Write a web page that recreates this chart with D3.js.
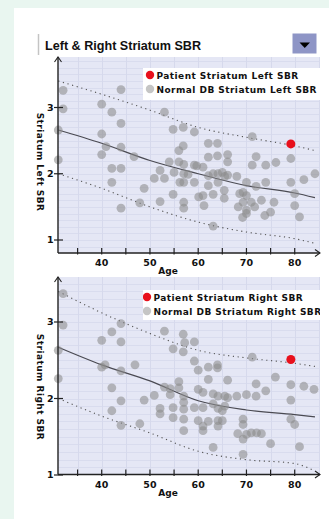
<!DOCTYPE html>
<html><head><meta charset="utf-8">
<script src="https://cdn.jsdelivr.net/npm/d3@7"></script>
<style>html,body{margin:0;padding:0;background:#fff;}svg{display:block;}</style>
</head><body><svg id="c" width="329" height="519"></svg>
<script>
// ---------- DATA ----------
const titleText = "Left & Right Striatum SBR";
const xTickValues = [40, 50, 60, 70, 80];
const yTickValues = [1, 2, 3];
const xLabel = "Age";
const leftLabel = "Striatum Left SBR";
const rightLabel = "Striatum Right SBR";
const leftLegend = ["Patient Striatum Left SBR", "Normal DB Striatum Left SBR"];
const rightLegend = ["Patient Striatum Right SBR", "Normal DB Striatum Right SBR"];

const leftNormalAge = [32,32,31,31,44,40,42.1,44,40,40.9,40,44,46.7,42.1,44,42.1,48.8,44,47.9,50.9,52.1,53,52.1,53,54.8,56.9,56.9,56,54,56,57,55,57,56.2,57,54.8,57,57,59.2,62.1,64,71.2,62.1,64,66.1,66.1,72,71.2,74,76.1,79.2,59.7,61,57.9,59.2,62.1,63.1,64.1,65,65.5,66.1,68,62.1,64.1,65.4,70,72,74,79.2,81.9,84.2,61,63.1,65.4,69.3,70,69.3,71,73.1,75.7,68.3,70,71.7,73.8,75,80,81,63.1,80,60.1,61.2,59.2,69.2,70,68.6];
const leftNormalSBR = [3.26,2.98,2.66,2.21,3.27,3.05,2.93,2.76,2.60,2.41,2.29,2.40,2.26,2.08,2.08,1.87,1.78,1.48,1.56,1.93,2.05,1.93,1.58,2.93,2.67,2.70,2.42,2.35,2.18,2.18,2.14,2.02,2.00,1.87,1.87,1.69,1.57,1.48,2.63,2.46,2.46,2.56,2.25,2.27,2.29,2.18,2.26,2.13,2.13,2.17,2.23,2.12,2.10,1.99,1.87,1.97,2.00,2.00,2.02,1.96,1.98,1.96,1.82,1.87,1.75,1.87,1.81,1.87,1.87,1.91,2.00,1.67,1.69,1.63,1.72,1.67,1.57,1.57,1.60,1.57,1.50,1.45,1.50,1.37,1.42,1.52,1.35,1.21,1.70,1.65,1.52,2.13,1.34,1.40,1.70];

const rightNormalAge = [32,32,31,31,44,42.1,40,44,40,40.7,44,46.9,42.1,44,42.1,44,48.8,47.9,50.9,52.1,52.1,53,54.8,56.9,56.9,53,54.2,54.2,56,56,57,57,54.8,57,57,54.8,57,59.2,60,62.1,64,64,71.2,59.2,62.1,66.1,72,76,79.2,81.9,84,60,61,63.1,64.1,65.5,66.1,68,70,72,74,79.2,59.2,61,63.1,64.1,65,65.5,60,61,62.1,64.1,65,64.1,61,63.1,69.3,69.3,70,69.3,71,72.1,73.1,68.2,75,79.2,80,81,69.3,57.2];
const rightNormalSBR = [3.37,2.96,2.63,2.26,2.98,2.87,2.76,2.74,2.41,2.44,2.36,2.44,2.14,1.97,1.84,1.65,1.98,1.67,2.04,1.87,1.80,2.88,2.65,2.84,2.61,2.15,2.13,2.05,2.22,2.14,2.03,1.95,1.88,1.86,1.73,1.75,1.58,2.74,2.37,2.41,2.44,2.40,2.54,2.49,2.25,2.24,2.19,2.28,2.18,2.16,2.12,2.12,2.08,2.06,2.03,2.03,2.01,2.03,2.05,2.03,2.10,1.98,1.88,1.88,1.93,1.87,1.84,1.90,1.71,1.64,1.70,1.71,1.71,1.64,1.58,1.36,1.73,1.66,1.53,1.47,1.55,1.55,1.54,1.54,1.41,1.73,1.66,1.37,1.27,2.73];

const patientAge = [79.2];
const patientLeftSBR = [2.45];
const patientRightSBR = [2.51];

const curveAges  = [31, 40, 50, 60, 70, 80, 84.2];
const leftMean   = [2.66, 2.46, 2.20, 2.00, 1.82, 1.71, 1.64];
const leftUpper  = [3.40, 3.20, 2.96, 2.70, 2.55, 2.42, 2.35];
const leftLower  = [2.00, 1.78, 1.50, 1.27, 1.12, 1.02, 0.95];
const rightMean  = [2.67, 2.44, 2.23, 1.97, 1.85, 1.79, 1.76];
const rightUpper = [3.40, 3.12, 2.85, 2.63, 2.53, 2.46, 2.42];
const rightLower = [2.00, 1.77, 1.55, 1.31, 1.20, 1.15, 1.05];

// ---------- DRAW ----------
const svg = d3.select("#c");
svg.append("rect").attr("width",329).attr("height",519).attr("fill","#e9f6f0");
svg.append("rect").attr("x",14).attr("y",8).attr("width",315).attr("height",511).attr("fill","#ffffff");

// title bar
svg.append("line").attr("x1",38.5).attr("x2",38.5).attr("y1",34).attr("y2",55)
  .attr("stroke","#c4c4c4").attr("stroke-width",1.5);
svg.append("text").attr("x",45).attr("y",50).text(titleText)
  .attr("font-family","'Liberation Sans', Arial, sans-serif").attr("font-weight","bold")
  .attr("font-size","12.6px").attr("fill","#111");
svg.append("rect").attr("x",292.5).attr("y",33.5).attr("width",24).attr("height",20)
  .attr("fill","#8e95c6");
svg.append("path").attr("d","M299.5,42.5 L310,42.5 L304.75,48 Z").attr("fill","#000");

const x = d3.scaleLinear().domain([40,80]).range([101.7,294.7]);
const FONT = "'DejaVu Sans', Verdana, sans-serif";

function panel(o){
  const y = d3.scaleLinear().domain([1,3]).range([o.y1, o.y3]);
  const g = svg.append("g");
  const L = 58, R = 320;
  // background
  g.append("rect").attr("x",L).attr("y",o.top).attr("width",R-L).attr("height",o.bottom-o.top)
    .attr("fill","#e5e7f5");
  // horizontal grid every 0.1
  const vMin = y.invert(o.bottom), vMax = y.invert(o.top);
  const hv = d3.range(Math.ceil(vMin*10), Math.floor(vMax*10)+1).map(d=>d/10);
  g.selectAll(".hg").data(hv).join("line")
    .attr("x1",L).attr("x2",R).attr("y1",d=>Math.round(y(d))+0.5).attr("y2",d=>Math.round(y(d))+0.5)
    .attr("stroke","#d9dcee").attr("stroke-width",1);
  const vv = d3.range(35,86,5);
  g.selectAll(".vg").data(vv).join("line")
    .attr("y1",o.top).attr("y2",o.bottom).attr("x1",d=>Math.round(x(d))+0.5).attr("x2",d=>Math.round(x(d))+0.5)
    .attr("stroke","#d6d9ec").attr("stroke-width",1);

  // curves
  const line = d3.line().x(d=>x(d[0])).y(d=>y(d[1])).curve(d3.curveMonotoneX);
  g.append("path").attr("d",line(d3.zip(curveAges,o.upper))).attr("fill","none")
    .attr("stroke","#555").attr("stroke-width",1.1).attr("stroke-dasharray","1.2,3.6");
  g.append("path").attr("d",line(d3.zip(curveAges,o.lower))).attr("fill","none")
    .attr("stroke","#555").attr("stroke-width",1.1).attr("stroke-dasharray","1.2,3.6");
  g.append("path").attr("d",line(d3.zip(curveAges,o.mean))).attr("fill","none")
    .attr("stroke","#4a4a52").attr("stroke-width",1.2);

  // normal points
  g.selectAll(".pt").data(d3.zip(o.ages,o.vals)).join("circle")
    .attr("cx",d=>x(d[0])).attr("cy",d=>y(d[1])).attr("r",4.4)
    .attr("fill","#8c8c8c").attr("fill-opacity",0.58);
  // patient
  g.selectAll(".pp").data(d3.zip(patientAge,o.patient)).join("circle")
    .attr("cx",d=>x(d[0])).attr("cy",d=>y(d[1])).attr("r",4.5).attr("fill","#e8101c");

  // axes
  g.append("line").attr("x1",L).attr("x2",L).attr("y1",o.top).attr("y2",o.bottom)
    .attr("stroke","#222").attr("stroke-width",1.4);
  g.append("line").attr("x1",L).attr("x2",R).attr("y1",o.bottom).attr("y2",o.bottom)
    .attr("stroke","#222").attr("stroke-width",1.4);
  g.append("path").attr("d",`M${L-3.5},${o.top+5} L${L},${o.top} L${L+3.5},${o.top+5}`)
    .attr("fill","none").attr("stroke","#222").attr("stroke-width",1.1);
  g.append("path").attr("d",`M${R-5},${o.bottom-3.5} L${R},${o.bottom} L${R-5},${o.bottom+3.5}`)
    .attr("fill","none").attr("stroke","#222").attr("stroke-width",1.1);

  // x ticks
  g.selectAll(".xt").data(d3.range(35,81,5)).join("line")
    .attr("x1",d=>x(d)).attr("x2",d=>x(d)).attr("y1",o.bottom-5).attr("y2",o.bottom+1.5)
    .attr("stroke","#222").attr("stroke-width",1.2);
  g.selectAll(".xl").data(xTickValues).join("text")
    .attr("x",d=>x(d)).attr("y",o.bottom+13).attr("text-anchor","middle").text(d=>d)
    .attr("font-family",FONT).attr("font-weight","bold").attr("font-size","9.5px").attr("fill","#111");
  g.append("text").attr("x",168).attr("y",o.bottom+21).attr("text-anchor","middle").text(xLabel)
    .attr("font-family",FONT).attr("font-weight","bold").attr("font-size","9px").attr("fill","#111");

  // y ticks
  g.selectAll(".yt").data(yTickValues).join("line")
    .attr("x1",54).attr("x2",63).attr("y1",d=>y(d)).attr("y2",d=>y(d))
    .attr("stroke","#222").attr("stroke-width",1.2);
  g.selectAll(".yl").data(yTickValues).join("text")
    .attr("x",53.5).attr("y",d=>y(d)+3.3).attr("text-anchor","end").text(d=>d)
    .attr("font-family",FONT).attr("font-weight","bold").attr("font-size","9.5px").attr("fill","#111");
  g.append("text").attr("transform",`translate(37,${o.labelY}) rotate(90)`)
    .attr("text-anchor","middle").text(o.label)
    .attr("font-family",FONT).attr("font-weight","bold").attr("font-size","9px")
    .attr("letter-spacing","0.45px").attr("fill","#111");

  // legend
  const clipId = "clip"+o.top;
  svg.append("clipPath").attr("id",clipId).append("rect")
    .attr("x",o.lx).attr("y",o.ly).attr("width",R-o.lx).attr("height",o.lh);
  const lg = g.append("g").attr("clip-path",`url(#${clipId})`);
  lg.append("rect").attr("x",o.lx).attr("y",o.ly).attr("width",R-o.lx).attr("height",o.lh).attr("fill","#fff");
  const rows = [{c:"#e8101c",o:1},{c:"#8c8c8c",o:0.5}];
  rows.forEach((r,i)=>{
    const cy = o.ly + 7 + i*14;
    lg.append("circle").attr("cx",o.lx+o.dx).attr("cy",cy).attr("r",4.2).attr("fill",r.c).attr("fill-opacity",r.o);
    lg.append("text").attr("x",o.lx+o.dx+6.5).attr("y",cy+3.5).text(o.legend[i])
      .attr("font-family",FONT).attr("font-weight","bold").attr("font-size","9px")
      .attr("letter-spacing","0.45px").attr("fill","#111");
  });
}

panel({top:57, bottom:253, y1:240, y3:107.5, ages:leftNormalAge, vals:leftNormalSBR,
  patient:patientLeftSBR, mean:leftMean, upper:leftUpper, lower:leftLower,
  label:leftLabel, labelY:162, legend:leftLegend, lx:143, ly:68, lh:32, dx:7});
panel({top:277, bottom:474.5, y1:475, y3:322, ages:rightNormalAge, vals:rightNormalSBR,
  patient:patientRightSBR, mean:rightMean, upper:rightUpper, lower:rightLower,
  label:rightLabel, labelY:387, legend:rightLegend, lx:143, ly:290, lh:30, dx:4});
</script></body></html>
